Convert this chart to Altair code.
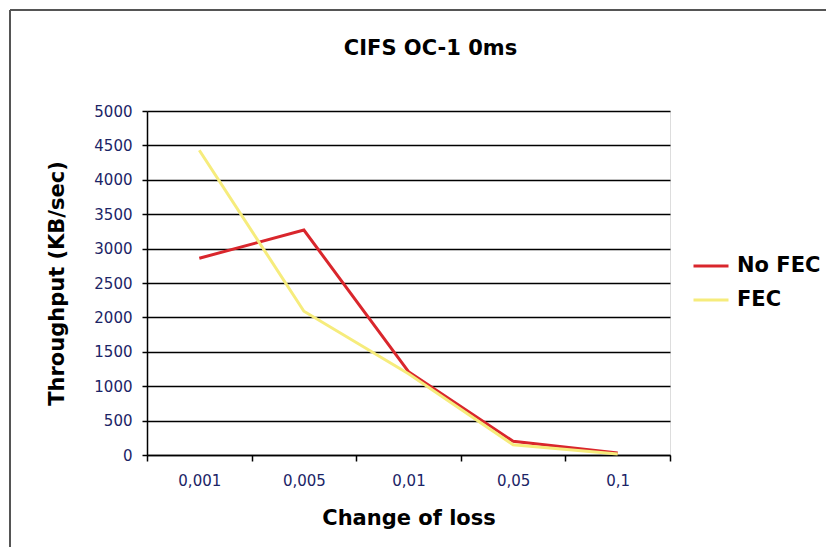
import altair as alt
import pandas as pd

loss = ["0,001", "0,005", "0,01", "0,05", "0,1"]
no_fec = [2860, 3270, 1210, 200, 30]
fec = [4430, 2090, 1180, 150, 15]
series = ["No FEC", "FEC"]
colors = ["#d9262c", "#f6ec7c"]
y_ticks = list(range(0, 5001, 500))

df = pd.DataFrame({
    "loss": loss * 2,
    "tp": no_fec + fec,
    "series": [series[0]] * len(loss) + [series[1]] * len(loss),
})

W, H = 523, 344
PL, PT, PR, PB = 139, 103, 156, 92
FONT = "DejaVu Sans"
LABEL_COLOR = "#1b2466"

lines = alt.Chart(df).mark_line(strokeWidth=3).encode(
    x=alt.X(
        "loss:N", sort=loss, bandPosition=0.5,
        scale=alt.Scale(type="band", paddingInner=0, paddingOuter=0),
        axis=alt.Axis(
            title="Change of loss", tickBand="extent", labelAngle=0,
            labelFont=FONT, labelFontSize=15, labelColor=LABEL_COLOR, labelPadding=12,
            titleFont=FONT, titleFontSize=21, titleFontWeight="bold", titleColor="black",
            titlePadding=19, tickColor="black", tickSize=6, tickWidth=1.5,
            domainColor="black", domainWidth=1.5, grid=False,
        ),
    ),
    y=alt.Y(
        "tp:Q", scale=alt.Scale(domain=[0, 5000], nice=False),
        axis=alt.Axis(
            title="Throughput (KB/sec)", values=y_ticks, format="d",
            labelFont=FONT, labelFontSize=15, labelColor=LABEL_COLOR, labelPadding=10,
            titleFont=FONT, titleFontSize=21, titleFontWeight="bold", titleColor="black",
            titleX=-90, titleY=H / 2, titleAngle=-90, titleBaseline="middle", titleAlign="center",
            tickColor="black", tickSize=5, tickWidth=1.5,
            domainColor="black", domainWidth=1.5,
            grid=True, gridColor="black", gridWidth=1.5, gridOpacity=1,
        ),
    ),
    color=alt.Color(
        "series:N",
        scale=alt.Scale(domain=series, range=colors),
        legend=alt.Legend(
            title=None, orient="none", legendX=545, legendY=136,
            symbolType="stroke", symbolSize=1225, symbolStrokeWidth=3,
            labelFont=FONT, labelFontSize=21, labelFontWeight="bold", labelColor="black",
            rowPadding=5, labelOffset=7, padding=0,
        ),
    ),
)

border = pd.DataFrame({"k": [0]})
left_edge = alt.Chart(border).mark_rule(color="#555555", strokeWidth=2).encode(
    x=alt.value(-PL + 2), y=alt.value(-PT + 2), y2=alt.value(H + PB)
)
top_edge = alt.Chart(border).mark_rule(color="#555555", strokeWidth=2).encode(
    x=alt.value(-PL + 2), x2=alt.value(W + PR), y=alt.value(-PT + 2)
)

chart = alt.layer(lines, left_edge, top_edge).properties(
    width=W, height=H,
    title=alt.TitleParams(
        "CIFS OC-1 0ms", font=FONT, fontSize=21, fontWeight="bold", color="black",
        anchor="middle", frame="group", dx=22, offset=-50,
    ),
    autosize=alt.AutoSizeParams(type="none"),
    padding={"left": PL, "top": PT, "right": PR, "bottom": PB},
).configure_view(
    fill="#c9c9c9", stroke="#9a9a9a", strokeWidth=1
).configure(background="white")

chart.save("out.html", embed_options={"renderer": "svg", "actions": False})
